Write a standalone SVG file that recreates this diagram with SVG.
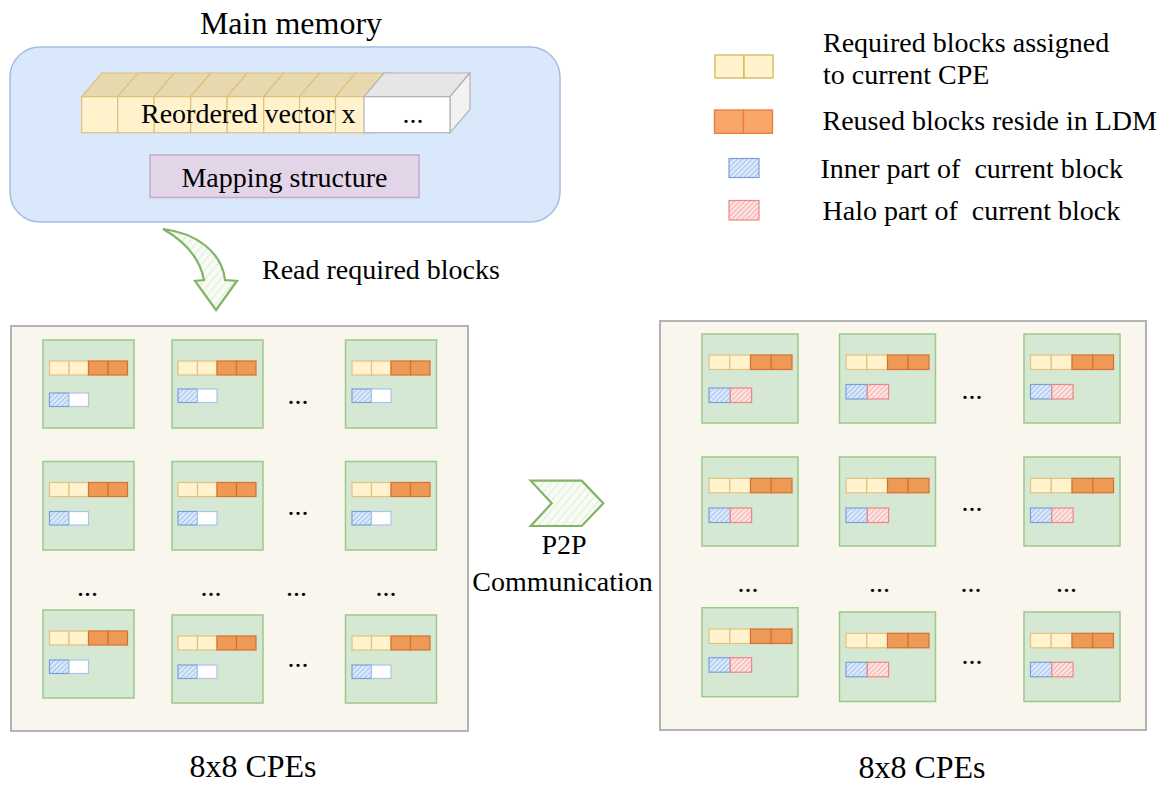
<svg xmlns="http://www.w3.org/2000/svg" width="1163" height="785" viewBox="0 0 1163 785">
  <style>
    text { font-family: "Liberation Serif", "Times New Roman", serif; fill: #000; }
    .t28 { font-size: 28px; }
    .t32 { font-size: 32px; }
    .dots { font-size: 28px; text-anchor: middle; }
    .panel { fill: #f9f7ed; stroke: #b3b3b3; stroke-width: 2; }
    .cpe { fill: #d5e8d4; stroke: #9cc987; stroke-width: 1.5; }
    .y { fill: #fff2cc; stroke: #e0c47e; stroke-width: 1.2; }
    .o { fill: #ec9a55; stroke: #d9702f; stroke-width: 1.2; }
    .hb { fill: url(#hatchBlue); stroke: #7b9fd4; stroke-width: 1.2; }
    .hr { fill: url(#hatchRed); stroke: #ee8783; stroke-width: 1.2; }
    .w { fill: #ffffff; stroke: #a9c4eb; stroke-width: 1.2; }
    .cubeFront { fill: #fff2cc; stroke: #dcc27a; stroke-width: 1.2; }
    .cubeTop { fill: #e7d8ad; stroke: #dcc27a; stroke-width: 1.2; }
    .green { fill: url(#hatchGreen); stroke: #82b366; stroke-width: 2.2; stroke-linejoin: miter; }
  </style>
  <defs>
    <pattern id="hatchBlue" width="3.5" height="3.5" patternUnits="userSpaceOnUse" patternTransform="rotate(45)">
      <rect width="3.5" height="3.5" fill="#dae8fc"/>
      <line x1="0" y1="0" x2="0" y2="3.5" stroke="#7ea6e0" stroke-width="1.1"/>
    </pattern>
    <pattern id="hatchRed" width="3.5" height="3.5" patternUnits="userSpaceOnUse" patternTransform="rotate(45)">
      <rect width="3.5" height="3.5" fill="#fbe3e2"/>
      <line x1="0" y1="0" x2="0" y2="3.5" stroke="#f08c89" stroke-width="1.1"/>
    </pattern>
    <pattern id="hatchGreen" width="6" height="6" patternUnits="userSpaceOnUse" patternTransform="rotate(40)">
      <rect width="6" height="6" fill="#f7fbf4"/>
      <line x1="0" y1="0" x2="0" y2="6" stroke="#c4dfb5" stroke-width="1"/>
    </pattern>
    <!-- block rows inside a CPE (left grid) -->
    <g id="barL">
      <rect class="y" x="0" y="0" width="19.5" height="14"/>
      <rect class="y" x="19.5" y="0" width="19.5" height="14"/>
      <rect class="o" x="39" y="0" width="19.5" height="14"/>
      <rect class="o" x="58.5" y="0" width="19.5" height="14"/>
    </g>
    <g id="pairL">
      <rect class="hb" x="0" y="0" width="19.5" height="13.5"/>
      <rect class="w" x="19.5" y="0" width="19.5" height="13.5"/>
    </g>
    <!-- block rows inside a CPE (right grid) -->
    <g id="barR">
      <rect class="y" x="0" y="0" width="20.75" height="14.5"/>
      <rect class="y" x="20.75" y="0" width="20.75" height="14.5"/>
      <rect class="o" x="41.5" y="0" width="20.75" height="14.5"/>
      <rect class="o" x="62.25" y="0" width="20.75" height="14.5"/>
    </g>
    <g id="pairR">
      <rect class="hb" x="0" y="0" width="21.3" height="14.5"/>
      <rect class="hr" x="21.3" y="0" width="21.3" height="14.5"/>
    </g>
  </defs>

  <rect width="1163" height="785" fill="#ffffff"/>

  <!-- Main memory -->
  <g id="main-memory">
    <text class="t32" x="291" y="34" text-anchor="middle">Main memory</text>
    <rect x="10" y="47" width="550" height="175" rx="30" ry="30" fill="#dae8fc" stroke="#a3bde3" stroke-width="1.5"/>
  </g>

  <g id="vector-x">
    <!-- yellow cubes -->
    <g>
      <polygon class="cubeTop" points="81.7,96.7 101.7,73 158.2,73 138.2,96.7"/>
      <rect class="cubeFront" x="81.7" y="96.7" width="36.5" height="36"/>
      <polygon class="cubeTop" points="117.7,96.7 137.7,73 174.2,73 154.2,96.7"/>
      <rect class="cubeFront" x="117.7" y="96.7" width="36.5" height="36"/>
      <polygon class="cubeTop" points="154.2,96.7 174.2,73 210.7,73 190.7,96.7"/>
      <rect class="cubeFront" x="154.2" y="96.7" width="36.5" height="36"/>
      <polygon class="cubeTop" points="190.7,96.7 210.7,73 247.2,73 227.2,96.7"/>
      <rect class="cubeFront" x="190.7" y="96.7" width="36.5" height="36"/>
      <polygon class="cubeTop" points="227.2,96.7 247.2,73 283.7,73 263.7,96.7"/>
      <rect class="cubeFront" x="227.2" y="96.7" width="36.5" height="36"/>
      <polygon class="cubeTop" points="263.7,96.7 283.7,73 320.2,73 300.2,96.7"/>
      <rect class="cubeFront" x="263.7" y="96.7" width="36.5" height="36"/>
      <polygon class="cubeTop" points="299.5,96.7 319.5,73 356,73 336,96.7"/>
      <rect class="cubeFront" x="299.5" y="96.7" width="36.5" height="36"/>
      <polygon class="cubeTop" points="335.5,96.7 355.5,73 392,73 372,96.7"/>
      <rect class="cubeFront" x="335.5" y="96.7" width="36.5" height="36"/>
    </g>
    <!-- remaining part -->
    <g>
      <polygon points="364,96.7 384,73 470,73 450,96.7" fill="#e6e6e6" stroke="#b3b3b3" stroke-width="1.2"/>
      <polygon points="450,96.7 470,73 470,109.5 450,132.7" fill="#f2f2f2" stroke="#b3b3b3" stroke-width="1.2"/>
      <rect x="364" y="96.7" width="86" height="36" fill="#ffffff" stroke="#b3b3b3" stroke-width="1.2"/>
      <text class="dots" x="413" y="123">...</text>
    </g>
    <text class="t28" x="141" y="123">Reordered vector x</text>
  </g>

  <g id="mapping-structure">
    <rect x="150" y="155" width="269" height="42.5" fill="#e1d5e7" stroke="#c3a9cf" stroke-width="1.5"/>
    <text class="t28" x="284.5" y="186.5" text-anchor="middle">Mapping structure</text>
  </g>

  <!-- Connectors -->
  <g id="connectors">
    <path id="read-arrow" class="green" d="M163,229 C196,233 222,252 225,280 L237,281 L216,310 L195,281 L204,280 C200,259 186,242 163,229 Z"/>
    <text class="t28" x="262" y="279">Read required blocks</text>
    <polygon id="p2p-arrow" class="green" points="530.7,480.7 581.7,480.7 603.3,503.3 581.7,526 530.7,526 551.7,503.3"/>
    <text class="t28" x="564" y="554" text-anchor="middle">P2P</text>
    <text class="t28" x="562.5" y="590.5" text-anchor="middle">Communication</text>
  </g>

  <!-- Legend -->
  <g id="legend">
    <g>
      <rect x="715" y="55" width="29" height="23" fill="#fff2cc" stroke="#d6b656" stroke-width="1.3"/>
      <rect x="744" y="55" width="29" height="23" fill="#fff2cc" stroke="#d6b656" stroke-width="1.3"/>
      <text class="t28" x="823" y="52">Required blocks assigned</text>
      <text class="t28" x="823" y="83.5">to current CPE</text>
    </g>
    <g>
      <rect x="714.5" y="110" width="29" height="23.3" fill="#f9a66b" stroke="#e8793f" stroke-width="1.3"/>
      <rect x="743.5" y="110" width="29" height="23.3" fill="#f9a66b" stroke="#e8793f" stroke-width="1.3"/>
      <text class="t28" x="822.5" y="130">Reused blocks reside in LDM</text>
    </g>
    <g>
      <rect class="hb" x="729" y="158.5" width="30" height="19"/>
      <text class="t28" x="820.5" y="178" xml:space="preserve">Inner part of  current block</text>
    </g>
    <g>
      <rect class="hr" x="729" y="200.5" width="30" height="19.5"/>
      <text class="t28" x="822.5" y="220" xml:space="preserve">Halo part of  current block</text>
    </g>
  </g>

  <!-- Left 8x8 CPE grid -->
  <g id="grid-left">
    <rect class="panel" x="11" y="326" width="457" height="405"/>
    <g id="cpe-l-1-1"><rect class="cpe" x="43" y="340" width="91" height="88"/><use href="#barL" x="49.5" y="361"/><use href="#pairL" x="49.5" y="393"/></g>
    <g id="cpe-l-1-2"><rect class="cpe" x="172" y="340" width="91" height="88"/><use href="#barL" x="178" y="361"/><use href="#pairL" x="178" y="389"/></g>
    <g id="cpe-l-1-8"><rect class="cpe" x="345.5" y="340" width="91" height="88"/><use href="#barL" x="352" y="361"/><use href="#pairL" x="352" y="389"/></g>
    <g id="cpe-l-2-1"><rect class="cpe" x="43" y="461.5" width="91" height="88.5"/><use href="#barL" x="49.5" y="482.5"/><use href="#pairL" x="49.5" y="511.5"/></g>
    <g id="cpe-l-2-2"><rect class="cpe" x="172" y="461.5" width="91" height="88.5"/><use href="#barL" x="178" y="482.5"/><use href="#pairL" x="178" y="511.5"/></g>
    <g id="cpe-l-2-8"><rect class="cpe" x="345.5" y="461.5" width="91" height="88.5"/><use href="#barL" x="352" y="482.5"/><use href="#pairL" x="352" y="511.5"/></g>
    <g id="cpe-l-8-1"><rect class="cpe" x="43" y="610" width="91" height="88"/><use href="#barL" x="49.5" y="631"/><use href="#pairL" x="49.5" y="660"/></g>
    <g id="cpe-l-8-2"><rect class="cpe" x="172" y="615" width="91" height="88"/><use href="#barL" x="178" y="636"/><use href="#pairL" x="178" y="665"/></g>
    <g id="cpe-l-8-8"><rect class="cpe" x="345.5" y="615" width="91" height="88"/><use href="#barL" x="352" y="636"/><use href="#pairL" x="352" y="665"/></g>
    <text class="dots" x="298" y="404">...</text>
    <text class="dots" x="298" y="515">...</text>
    <text class="dots" x="87.5" y="596">...</text>
    <text class="dots" x="211" y="596">...</text>
    <text class="dots" x="296.5" y="596">...</text>
    <text class="dots" x="386" y="596">...</text>
    <text class="dots" x="298" y="667">...</text>
    <text class="t32" x="253" y="777" text-anchor="middle">8x8 CPEs</text>
  </g>

  <!-- Right 8x8 CPE grid -->
  <g id="grid-right">
    <rect class="panel" x="660" y="321" width="486" height="409"/>
    <g id="cpe-r-1-1"><rect class="cpe" x="702" y="334" width="96" height="89"/><use href="#barR" x="709" y="355"/><use href="#pairR" x="709" y="388"/></g>
    <g id="cpe-r-1-2"><rect class="cpe" x="839.5" y="334" width="96" height="89"/><use href="#barR" x="846" y="355"/><use href="#pairR" x="846" y="384.5"/></g>
    <g id="cpe-r-1-8"><rect class="cpe" x="1024" y="334" width="96" height="89"/><use href="#barR" x="1030.5" y="355"/><use href="#pairR" x="1030.5" y="384.5"/></g>
    <g id="cpe-r-2-1"><rect class="cpe" x="702" y="457" width="96" height="89"/><use href="#barR" x="709" y="478.3"/><use href="#pairR" x="709" y="508"/></g>
    <g id="cpe-r-2-2"><rect class="cpe" x="839.5" y="457" width="96" height="89"/><use href="#barR" x="846" y="478.3"/><use href="#pairR" x="846" y="508"/></g>
    <g id="cpe-r-2-8"><rect class="cpe" x="1024" y="457" width="96" height="89"/><use href="#barR" x="1030.5" y="478.3"/><use href="#pairR" x="1030.5" y="508"/></g>
    <g id="cpe-r-8-1"><rect class="cpe" x="702" y="607.7" width="96" height="89"/><use href="#barR" x="709" y="629"/><use href="#pairR" x="709" y="657.7"/></g>
    <g id="cpe-r-8-2"><rect class="cpe" x="839.5" y="612" width="96" height="89.5"/><use href="#barR" x="846" y="633.3"/><use href="#pairR" x="846" y="662.3"/></g>
    <g id="cpe-r-8-8"><rect class="cpe" x="1024" y="612" width="96" height="89.5"/><use href="#barR" x="1030.5" y="633.3"/><use href="#pairR" x="1030.5" y="662.3"/></g>
    <text class="dots" x="972" y="399">...</text>
    <text class="dots" x="972" y="511">...</text>
    <text class="dots" x="748" y="592">...</text>
    <text class="dots" x="879.5" y="592">...</text>
    <text class="dots" x="971" y="592">...</text>
    <text class="dots" x="1066.5" y="592">...</text>
    <text class="dots" x="972" y="664">...</text>
    <text class="t32" x="922" y="778" text-anchor="middle">8x8 CPEs</text>
  </g>
</svg>
